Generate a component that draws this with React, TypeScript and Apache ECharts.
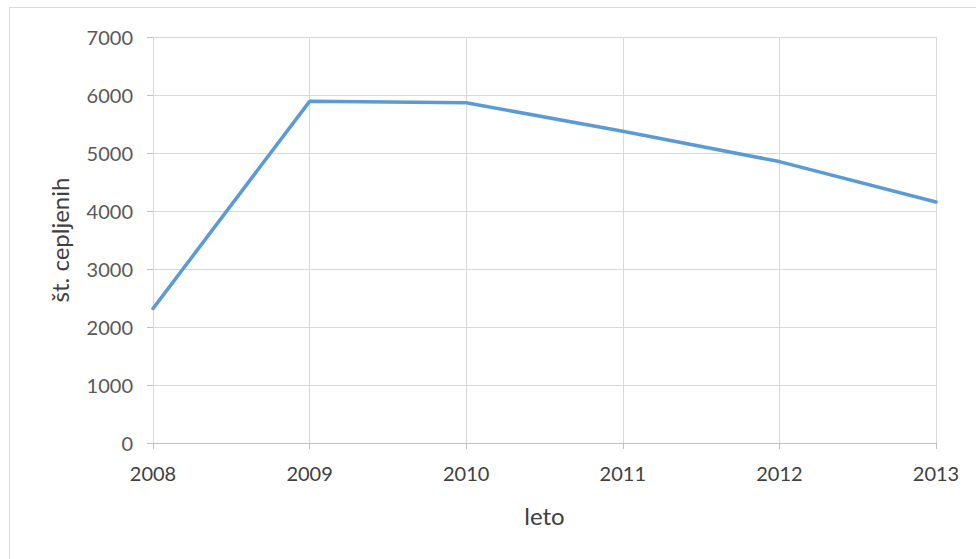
import React, { useEffect, useRef } from "react";
import * as echarts from "echarts";

const years = ["2008", "2009", "2010", "2011", "2012", "2013"];
const vaccinated = [2317, 5891, 5866, 5374, 4852, 4155];

export default function App() {
  const ref = useRef<HTMLDivElement>(null);

  useEffect(() => {
    if (!ref.current) return;
    const chart = echarts.init(ref.current, undefined, { renderer: "svg" });
    const font = "Lato, 'Open Sans', sans-serif";
    chart.setOption({
      animation: false,
      backgroundColor: "#ffffff",
      graphic: [
        {
          type: "rect",
          shape: { x: 9.5, y: 7.5, width: 1000, height: 600 },
          style: { fill: "none", stroke: "#D9D9D9", lineWidth: 1 },
          silent: true,
        },
      ],
      grid: { left: 153, right: 40, top: 37, bottom: 116 },
      xAxis: {
        type: "category",
        data: years,
        boundaryGap: false,
        name: "leto",
        nameLocation: "middle",
        nameGap: 60,
        nameTextStyle: { fontFamily: font, fontSize: 24, color: "#404040" },
        axisLine: { lineStyle: { color: "#BFBFBF", width: 1 } },
        axisTick: { show: true, length: 6, lineStyle: { color: "#BFBFBF" } },
        axisLabel: { fontFamily: font, fontSize: 20, color: "#404040", margin: 20 },
        splitLine: { show: true, lineStyle: { color: "#D9D9D9", width: 1 } },
      },
      yAxis: {
        type: "value",
        min: 0,
        max: 7000,
        interval: 1000,
        name: "št. cepljenih",
        nameLocation: "middle",
        nameGap: 82,
        nameRotate: 90,
        nameTextStyle: { fontFamily: font, fontSize: 24, color: "#404040" },
        axisLine: { show: false },
        axisTick: { show: true, length: 6, lineStyle: { color: "#BFBFBF" } },
        axisLabel: {
          fontFamily: font,
          fontSize: 20,
          color: "#595959",
          margin: 20,
          formatter: (v: number) => String(v),
        },
        splitLine: { show: true, lineStyle: { color: "#D9D9D9", width: 1 } },
      },
      series: [
        {
          type: "line",
          data: vaccinated,
          symbol: "none",
          lineStyle: { color: "#5B9BD5", width: 3.5, cap: "round" },
        },
      ],
    });
    return () => chart.dispose();
  }, []);

  return (
    <div
      ref={ref}
      style={{ position: "fixed", left: 0, top: 0, width: 976, height: 559 }}
    />
  );
}
